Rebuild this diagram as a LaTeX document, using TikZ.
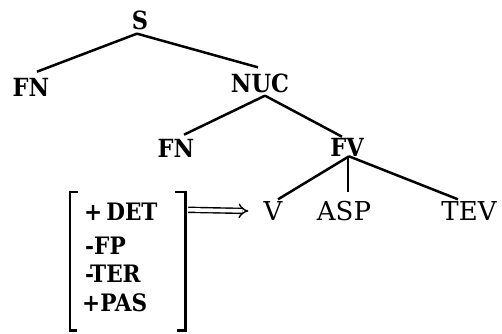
\documentclass[tikz,border=0pt]{standalone}
\usepackage{fontspec}
\setmainfont{DejaVu Serif Condensed}
\newfontfamily\leaffont{DejaVu Serif}
\usetikzlibrary{arrows.meta}
\begin{document}
\begin{tikzpicture}[x=1pt,y=-1pt,
  lbl/.style={inner sep=0pt, font=\fontsize{25}{30}\selectfont\bfseries},
  leaf/.style={inner sep=0pt, font=\fontsize{26}{30}\leaffont},
  feat/.style={inner sep=0pt, anchor=west, font=\fontsize{24}{30}\selectfont\bfseries},
  branch/.style={line width=2.5pt},
  brack/.style={line width=2.6pt},
  rewrite/.style={double, double distance=3.6pt, line width=1.4pt, -{Implies[]}}]
\useasboundingbox (0,0) rectangle (502,333);

% tree nodes
\node[lbl] (S)   at (140,20)  {S};
\node[lbl] (FNa) at (31,87)   {FN};
\node[lbl] (NUC) at (260,83)  {NUC};
\node[lbl] (FNb) at (176,148) {FN};
\node[lbl] (FV)  at (347,147) {FV};
\node[leaf] (V)   at (273,211) {V};
\node[leaf] (ASP) at (344,211) {ASP};
\node[leaf] (TEV) at (469,211) {TEV};

% branches
\draw[branch] ([xshift=-3pt,yshift=-4pt]S.south) -- ([xshift=6pt,yshift=6pt]FNa.north);
\draw[branch] ([xshift=-3pt,yshift=-4pt]S.south) -- ([xshift=-2pt,yshift=6pt]NUC.north);
\draw[branch] ([xshift=5pt,yshift=-3pt]NUC.south) -- ([xshift=8pt,yshift=4pt]FNb.north);
\draw[branch] ([xshift=5pt,yshift=-3pt]NUC.south) -- ([xshift=-5pt,yshift=1pt]FV.north);
\draw[branch] ([xshift=2pt]FV.south) -- ([xshift=5pt,yshift=2pt]V.north);
\draw[branch] ([xshift=1pt]FV.south) -- ([xshift=4pt,yshift=9pt]ASP.north);
\draw[branch] ([xshift=2pt]FV.south) -- ([xshift=-11pt,yshift=2pt]TEV.north);

% feature matrix
\node[inner sep=0pt, minimum width=115pt, minimum height=138pt] (M) at (127.5,261) {};
\draw[brack] ([xshift=8pt]M.north west) -- (M.north west) -- (M.south west) -- ([xshift=7pt]M.south west);
\draw[brack] ([xshift=-10pt]M.north east) -- (M.north east) -- (M.south east) -- ([xshift=-8pt]M.south east);
\node[feat] (f1) at (84,212) {+\,DET};
\node[feat] (f2) at (85,246) {-FP};
\node[feat] (f3) at (85,274) {-TER};
\node[feat] (f4) at (82,303) {+PAS};

% rewrite arrow
\draw[rewrite] ([xshift=3pt,yshift=-18pt]M.north east) -- ([xshift=-15pt]V.west);
\end{tikzpicture}
\end{document}
